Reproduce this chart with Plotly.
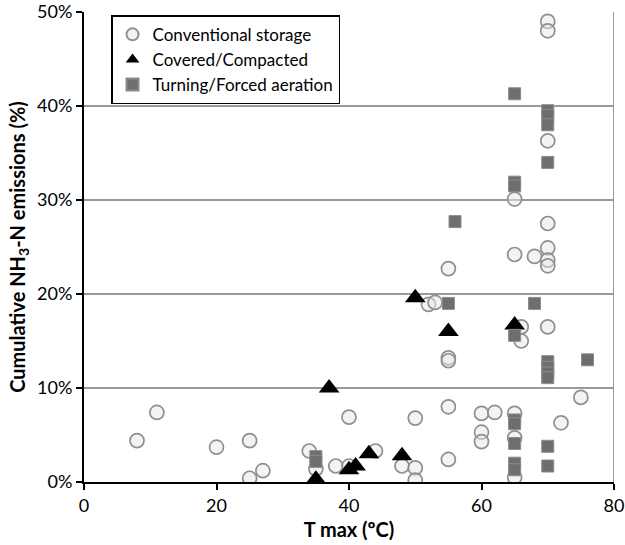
import plotly.graph_objects as go

# Conventional storage
conv_x = [8, 11, 20, 25, 25, 27, 34, 35, 38, 40, 40, 44, 48, 50, 50, 50, 52, 53, 55, 55, 55, 55, 55,
          60, 62, 60, 60, 65, 65, 65, 65, 65, 66, 66, 68, 70, 70, 70, 70, 70, 70, 70, 70, 72, 75]
conv_y = [4.4, 7.4, 3.7, 4.4, 0.4, 1.2, 3.3, 1.4, 1.7, 1.7, 6.9, 3.3, 1.7, 1.5, 0.2, 6.8, 18.9, 19.1, 22.7, 13.2, 12.9, 8.0, 2.4,
          7.3, 7.4, 5.3, 4.3, 7.3, 4.7, 0.5, 30.1, 24.2, 16.5, 15.0, 24.0, 49.0, 48.0, 36.3, 27.5, 24.9, 23.6, 23.0, 16.5, 6.3, 9.0]

# Covered/Compacted
cov_x = [35, 37, 40, 41, 43, 48, 50, 55, 65]
cov_y = [0.3, 10.0, 1.3, 1.7, 3.0, 2.8, 19.6, 16.0, 16.7]

# Turning/Forced aeration
turn_x = [35, 35, 55, 56, 65, 65, 65, 65, 65, 65, 65, 65, 65, 68, 70, 70, 70, 70, 70, 70, 70, 70, 70, 70, 76]
turn_y = [2.7, 2.2, 19.0, 27.7, 41.3, 31.9, 31.5, 15.6, 6.6, 6.2, 4.1, 2.0, 1.3, 19.0, 39.5, 39.0, 38.0, 34.0,
          12.8, 12.2, 11.6, 11.1, 3.8, 1.7, 13.0]

x_ticks = [0, 20, 40, 60, 80]
y_ticks = [0, 10, 20, 30, 40, 50]
y_labels = ["0%", "10%", "20%", "30%", "40%", "50%"]

fig = go.Figure()
fig.add_trace(go.Scatter(
    x=conv_x, y=conv_y, mode="markers", name="Conventional storage",
    marker=dict(symbol="circle", size=14, color="rgba(232,232,232,0.5)",
                line=dict(color="#8f8f8f", width=1.7))))
fig.add_trace(go.Scatter(
    x=cov_x, y=cov_y, mode="markers", name="Covered/Compacted",
    marker=dict(symbol="triangle-up", size=18, color="black", line=dict(width=0))))
fig.add_trace(go.Scatter(
    x=turn_x, y=turn_y, mode="markers", name="Turning/Forced aeration",
    marker=dict(symbol="square", size=12, color="#6e6e6e",
                line=dict(color="#8c8c8c", width=1))))

fig.add_shape(type="line", xref="x", yref="y", x0=80, x1=80, y0=0, y1=50,
              line=dict(color="#9a9a9a", width=2), layer="below")

font = "Lato, 'Open Sans', sans-serif"
fig.update_layout(
    width=625, height=545,
    margin=dict(l=84, r=11, t=12, b=63),
    paper_bgcolor="white", plot_bgcolor="white",
    font=dict(family=font, size=18, color="black"),
    showlegend=True,
    legend=dict(x=0.051, y=0.993, xanchor="left", yanchor="top",
                bgcolor="white", bordercolor="black", borderwidth=1.5,
                font=dict(size=17), itemsizing="constant"),
    xaxis=dict(range=[0, 80], tickvals=x_ticks, showgrid=False, zeroline=False,
               showline=True, linecolor="black", linewidth=2, automargin=False,
               ticks="outside", ticklen=6, tickwidth=2, tickcolor="black",
               title=dict(text="<b>T max (ºC)</b>", font=dict(size=20), standoff=8)),
    yaxis=dict(range=[0, 50], tickvals=y_ticks, ticktext=y_labels, showgrid=True,
               gridcolor="#9a9a9a", gridwidth=2, zeroline=False,
               showline=True, linecolor="black", linewidth=2, automargin=False,
               ticks="outside", ticklen=6, tickwidth=1.5, tickcolor="black",
               title=dict(text="<b>Cumulative NH<sub>3</sub>-N emissions (%)</b>",
                          font=dict(size=20), standoff=6)),
)

fig.write_html("out.html", config={"displayModeBar": False},
               post_script="document.body.style.margin='0';")
